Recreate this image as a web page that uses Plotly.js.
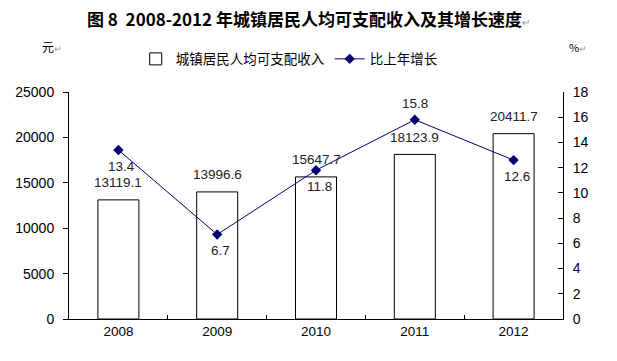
<!DOCTYPE html>
<html><head><meta charset="utf-8">
<script src="https://cdn.plot.ly/plotly-3.0.1.min.js"></script>
<style>html,body{margin:0;padding:0;background:#fff}</style>
</head><body>
<div id="chart" style="width:617px;height:361px"></div>
<script>
var years = ['2008','2009','2010','2011','2012'];
var income = [13119.1, 13996.6, 15647.7, 18123.9, 20411.7];
var growth = [13.4, 6.7, 11.8, 15.8, 12.6];
var growthLabelPos = ['below','below','below','above','below'];

var xIdx = years.map(function(_, i){ return i; });
var numFont = 'Liberation Sans, Arial, sans-serif';
var cjkFont = 'Noto Sans CJK SC, sans-serif';

var traces = [
  {type:'bar', name:'城镇居民人均可支配收入', x:xIdx, y:income,
   marker:{color:'#ffffff', line:{color:'#000000', width:1}},
   hoverinfo:'none', xaxis:'x', yaxis:'y'},
  {type:'scatter', mode:'lines+markers', name:'比上年增长', x:xIdx, y:growth,
   line:{color:'#000070', width:1},
   marker:{symbol:'diamond', size:8, color:'#000070'},
   hoverinfo:'none', xaxis:'x', yaxis:'y2'}
];

var annotations = [];
income.forEach(function(v, i){
  annotations.push({x:i, y:v, xref:'x', yref:'y', text:v.toFixed(1), showarrow:false,
    yshift:17, font:{family:numFont, size:13.5, color:'#222'}});
});
growth.forEach(function(v, i){
  var above = growthLabelPos[i] === 'above';
  annotations.push({x:i, y:v, xref:'x', yref:'y2', text:v.toFixed(1), showarrow:false,
    yshift: above ? 16 : -16, xshift: above ? 0 : 3, font:{family:numFont, size:13.5, color:'#222'}});
});
annotations.push({xref:'paper', yref:'paper', x:-0.035, y:1.2, xanchor:'center', yanchor:'middle',
  text:'元<span style="color:#999;font-size:9px">↵</span>', showarrow:false, font:{family:cjkFont, size:12, color:'#000'}});
annotations.push({xref:'paper', yref:'paper', x:1.03, y:1.2, xanchor:'center', yanchor:'middle',
  text:'%<span style="color:#999;font-size:9px">↵</span>', showarrow:false, font:{family:cjkFont, size:11, color:'#000'}});

var layout = {
  width:617, height:361,
  margin:{l:69, r:54, t:92, b:42},
  paper_bgcolor:'#fff', plot_bgcolor:'#fff',
  title:{text:'<b>图 8  2008-2012 年城镇居民人均可支配收入及其增长速度</b><span style="color:#999;font-size:10px">↵</span>',
    x:0.5, xanchor:'center', xref:'container', y:0.945, yanchor:'middle', yref:'container',
    font:{family:cjkFont, size:17, color:'#000'}},
  showlegend:true,
  legend:{orientation:'h', x:0.135, y:1.145, xanchor:'left', yanchor:'middle',
    font:{family:cjkFont, size:13.5, color:'#000'}, bgcolor:'rgba(0,0,0,0)', itemwidth:30, tracegroupgap:0},
  bargap:0.585,
  xaxis:{range:[-0.5,4.5], tickmode:'array', tickvals:xIdx, ticktext:years, ticks:'',
    showline:true, linecolor:'#000', linewidth:1, showgrid:false, zeroline:false,
    tickfont:{family:numFont, size:13.5, color:'#000'}, fixedrange:true},
  xaxis2:{range:[-0.5,4.5], overlaying:'x', side:'bottom', anchor:'y', tickmode:'array',
    tickvals:[0.5,1.5,2.5,3.5], ticks:'inside', ticklen:4, tickcolor:'#000', showticklabels:false,
    showline:false, showgrid:false, zeroline:false},
  yaxis:{range:[0,25000], dtick:5000, ticks:'outside', ticklen:5, tickcolor:'#000',
    tickformat:'d', exponentformat:'none',
    showline:true, linecolor:'#000', linewidth:1, showgrid:false, zeroline:false,
    tickfont:{family:numFont, size:14, color:'#000'}, ticklabelstandoff:6},
  yaxis2:{range:[0,18], dtick:2, overlaying:'y', side:'right', ticks:'inside', ticklen:5, tickcolor:'#000',
    showline:true, linecolor:'#000', linewidth:1, showgrid:false, zeroline:false,
    tickfont:{family:numFont, size:14, color:'#000'}, ticklabelstandoff:6},
  annotations:annotations
};
traces.push({type:'scatter', x:[0], y:[0], xaxis:'x2', yaxis:'y', mode:'markers',
  marker:{opacity:0}, showlegend:false, hoverinfo:'none'});

Plotly.newPlot('chart', traces, layout, {displayModeBar:false, staticPlot:true});
</script>
</body></html>
